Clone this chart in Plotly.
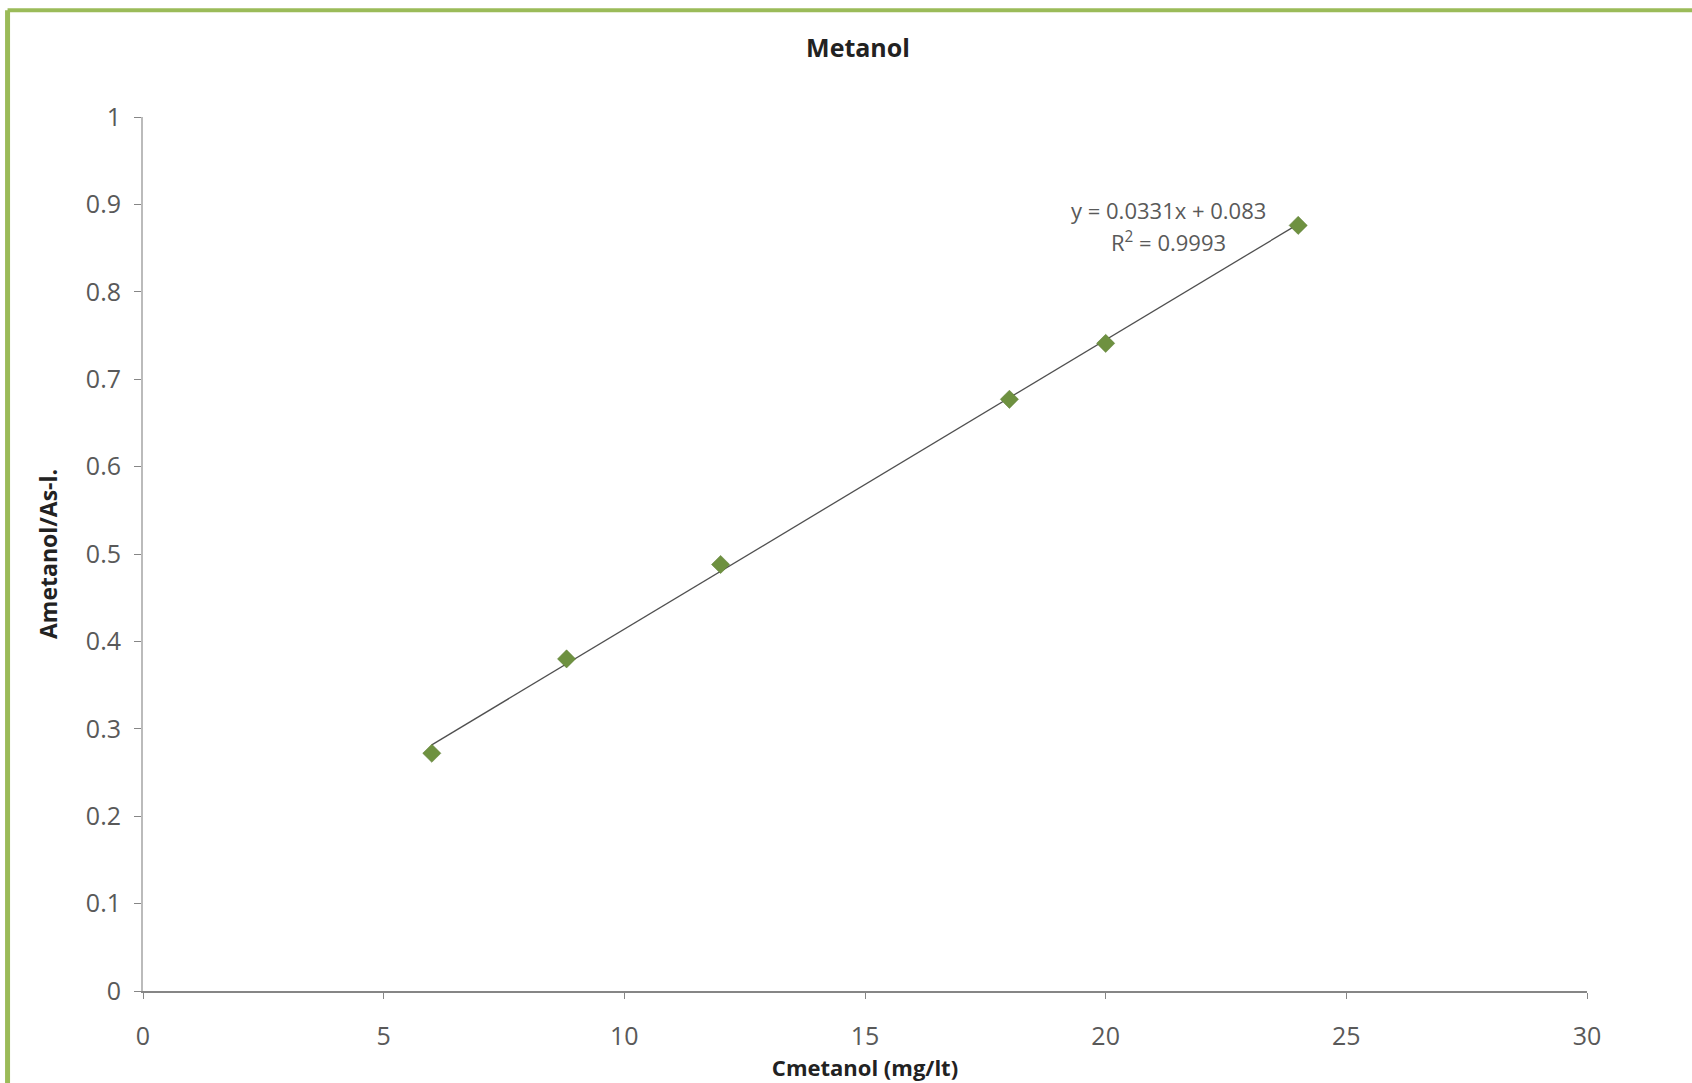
import plotly.graph_objects as go

# Data
conc = [6, 8.8, 12, 18, 20, 24]
absorb = [0.272, 0.380, 0.488, 0.677, 0.741, 0.876]
slope = 0.0331
intercept = 0.083
r2 = 0.9993

x_ticks = [0, 5, 10, 15, 20, 25, 30]
y_ticks = [0, 0.1, 0.2, 0.3, 0.4, 0.5, 0.6, 0.7, 0.8, 0.9, 1]

FONT = "'Open Sans', Lato, sans-serif"
GREEN = "#9BBB59"

trend_x = [min(conc), max(conc)]
trend_y = [slope * v + intercept for v in trend_x]

fig = go.Figure()
fig.add_trace(go.Scatter(x=trend_x, y=trend_y, mode="lines",
                         line=dict(color="#505050", width=1.3), showlegend=False))
fig.add_trace(go.Scatter(x=conc, y=absorb, mode="markers",
                         marker=dict(symbol="diamond", size=14, color="#6E9140",
                                     line=dict(color="#5A7A30", width=0.5)),
                         showlegend=False))

fig.add_annotation(x=21.3, y=0.894, xref="x", yref="y", yanchor="middle",
                   text=f"y = {slope}x + {intercept}", showarrow=False,
                   font=dict(family=FONT, size=22, color="#595959"))
fig.add_annotation(x=21.3, y=0.858, xref="x", yref="y", yanchor="middle",
                   text=f"R<sup>2</sup> = {r2}", showarrow=False,
                   font=dict(family=FONT, size=22, color="#595959"))

# Green frame (top and left edges visible)
fig.add_shape(type="line", xref="paper", yref="paper", x0=-0.0938, x1=1.2, y0=1.1221, y1=1.1221,
              line=dict(color=GREEN, width=4))
fig.add_shape(type="line", xref="paper", yref="paper", x0=-0.0938, x1=-0.0938, y0=-0.2, y1=1.1221,
              line=dict(color=GREEN, width=5))

fig.update_layout(
    width=1692, height=1083,
    margin=dict(l=143, r=105, t=117, b=90),
    paper_bgcolor="white", plot_bgcolor="white",
    title=dict(text="<b>Metanol</b>", x=858 / 1692, xanchor="center",
               y=1 - 48 / 1083, yanchor="middle",
               font=dict(family=FONT, size=25, color="#222222")),
    font=dict(family=FONT),
    xaxis=dict(range=[0, 30], tickvals=x_ticks, ticktext=[str(v) for v in x_ticks],
               showgrid=False, zeroline=False, showline=True, linecolor="#868686", linewidth=1.5,
               ticks="outside", ticklen=6, tickcolor="#868686", ticklabelstandoff=16,
               tickfont=dict(family=FONT, size=25, color="#595959"),
               title=dict(text="<b>Cmetanol (mg/lt)</b>", standoff=4,
                          font=dict(family=FONT, size=22, color="#222222"))),
    yaxis=dict(range=[0, 1], tickvals=y_ticks, ticktext=[f"{v:g}" for v in y_ticks],
               showgrid=False, zeroline=False, showline=True, linecolor="#bbbbbb", linewidth=2,
               ticks="outside", ticklen=7, tickcolor="#868686", ticklabelstandoff=8,
               tickfont=dict(family=FONT, size=25, color="#595959"),
               title=dict(text="<b>Ametanol/As-l.</b>", standoff=22,
                          font=dict(family=FONT, size=23, color="#222222"))),
)

fig.write_html("out.html", config={"displayModeBar": False},
               post_script="document.body.style.margin='0';")
